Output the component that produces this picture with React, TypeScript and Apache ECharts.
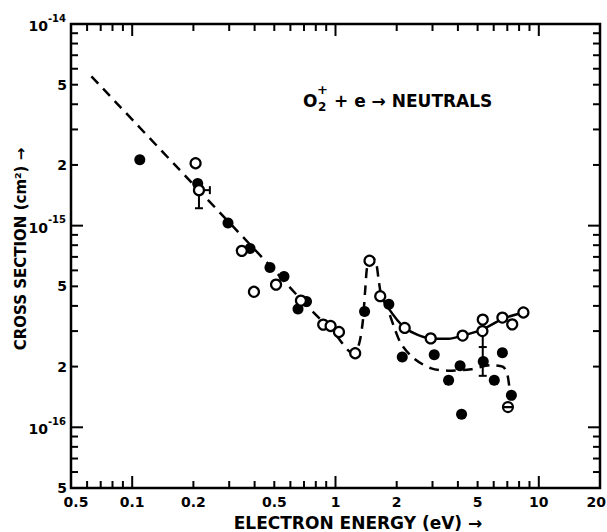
import React, { useEffect, useRef } from "react";
import * as echarts from "echarts";

const X_MIN = 0.05;
const X_MAX = 20;
const Y_MIN = 5e-17;
const Y_MAX = 1e-14;

const xMajorTicks = [0.1, 1, 10];
const xMinorTicks = [0.06, 0.07, 0.08, 0.09, 0.2, 0.3, 0.4, 0.5, 0.6, 0.7, 0.8, 0.9, 2, 3, 4, 5, 6, 7, 8, 9];
const xLabelValues = [0.05, 0.1, 0.2, 0.5, 1, 2, 5, 10, 20];
const xLabelTexts = ["0.5", "0.1", "0.2", "0.5", "1", "2", "5", "10", "20"];

const yMajorTicks = [1e-16, 1e-15];
const yMinorTicks = [
  6e-17, 7e-17, 8e-17, 9e-17,
  2e-16, 3e-16, 4e-16, 5e-16, 6e-16, 7e-16, 8e-16, 9e-16,
  2e-15, 3e-15, 4e-15, 5e-15, 6e-15, 7e-15, 8e-15, 9e-15,
];
const yLabelValues = [1e-14, 5e-15, 2e-15, 1e-15, 5e-16, 2e-16, 1e-16, 5e-17];
const yLabelBase = ["10", "5", "2", "10", "5", "2", "10", "5"];
const yLabelExp = ["-14", "", "", "-15", "", "", "-16", ""];

// filled circles
const filledX = [0.109, 0.21, 0.296, 0.38, 0.476, 0.558, 0.654, 0.72, 1.39, 1.83, 2.13, 3.06, 3.6, 4.1, 4.17, 5.33, 6.04, 6.62, 7.33];
const filledY = [2.12e-15, 1.62e-15, 1.03e-15, 7.7e-16, 6.2e-16, 5.6e-16, 3.86e-16, 4.2e-16, 3.75e-16, 4.08e-16, 2.23e-16, 2.29e-16, 1.71e-16, 2.02e-16, 1.16e-16, 2.12e-16, 1.71e-16, 2.34e-16, 1.44e-16];

// open circles
const openX = [0.205, 0.213, 0.346, 0.397, 0.51, 0.676, 0.87, 0.946, 1.04, 1.25, 1.47, 1.66, 2.19, 2.94, 4.22, 5.3, 5.28, 6.62, 7.4, 8.4];
const openY = [2.04e-15, 1.5e-15, 7.5e-16, 4.7e-16, 5.1e-16, 4.25e-16, 3.23e-16, 3.18e-16, 2.97e-16, 2.33e-16, 6.7e-16, 4.47e-16, 3.11e-16, 2.76e-16, 2.85e-16, 3.42e-16, 3.0e-16, 3.5e-16, 3.24e-16, 3.71e-16];

// open circle with bar
const slashedX = [7.05];
const slashedY = [1.26e-16];

// dashed fit curve
const dashedX = [0.063, 0.2, 0.5, 0.7, 1.0, 1.22, 1.3, 1.36, 1.4, 1.44, 1.51, 1.58, 1.63, 1.68, 1.79, 1.96, 2.11, 2.45, 2.96, 3.57, 4.64, 5.81, 6.64, 6.96, 7.15, 7.3];
const dashedY = [5.5e-15, 1.6e-15, 6.0e-16, 4.15e-16, 2.88e-16, 2.33e-16, 2.55e-16, 3.3e-16, 4.8e-16, 6.5e-16, 7.0e-16, 6.6e-16, 5.4e-16, 4.5e-16, 3.95e-16, 3.06e-16, 2.58e-16, 2.18e-16, 1.96e-16, 1.91e-16, 1.94e-16, 2.03e-16, 2.0e-16, 1.87e-16, 1.61e-16, 1.37e-16];

// solid fit curve
const solidX = [1.79, 2.19, 2.94, 3.6, 4.22, 5.3, 6.64, 8.4];
const solidY = [4.0e-16, 3.12e-16, 2.76e-16, 2.75e-16, 2.85e-16, 3.06e-16, 3.45e-16, 3.71e-16];

// error bars: vertical [x, low, high], caps [x, y], horizontal [y, xLow, xHigh]
const errVX = [0.213, 5.3];
const errVLow = [1.22e-15, 1.8e-16];
const errVHigh = [1.5e-15, 3.0e-16];
const capX = [0.213, 5.3, 5.3];
const capY = [1.22e-15, 1.8e-16, 2.5e-16];
const errHY = [1.5e-15];
const errHLow = [0.213];
const errHHigh = [0.241];

const FONT = '"DejaVu Sans", "Liberation Sans", sans-serif';

export default function App() {
  const ref = useRef<HTMLDivElement>(null);

  useEffect(() => {
    if (!ref.current) return;
    const chart = echarts.init(ref.current, null, { renderer: "svg" });

    const pairs = (xs: number[], ys: number[]) => xs.map((x, i) => [x, ys[i]]);

    const xTickData = [
      ...xMajorTicks.map((v) => [v, Y_MIN, 1]),
      ...xMinorTicks.map((v) => [v, Y_MIN, 0]),
    ];
    const yTickData = [
      ...yMajorTicks.map((v) => [X_MIN, v, 1]),
      ...yMinorTicks.map((v) => [X_MIN, v, 0]),
    ];
    const xLabelData = xLabelValues.map((v, i) => [v, Y_MIN, i]);
    const yLabelData = yLabelValues.map((v, i) => [X_MIN, v, i]);

    const stroke = { stroke: "#000", lineWidth: 2 };

    const option: any = {
      animation: false,
      backgroundColor: "#fff",
      grid: {
        left: 71,
        right: 7,
        top: 24,
        bottom: 44,
        show: true,
        borderColor: "#000",
        borderWidth: 2.5,
        backgroundColor: "transparent",
      },
      xAxis: {
        type: "log",
        logBase: 10,
        min: X_MIN,
        max: X_MAX,
        axisLine: { show: false },
        axisTick: { show: false },
        axisLabel: { show: false },
        splitLine: { show: false },
      },
      yAxis: {
        type: "log",
        logBase: 10,
        min: Y_MIN,
        max: Y_MAX,
        axisLine: { show: false },
        axisTick: { show: false },
        axisLabel: { show: false },
        splitLine: { show: false },
      },
      graphic: [
        {
          type: "text",
          x: 21,
          y: 249,
          rotation: Math.PI / 2,
          style: {
            text: "CROSS SECTION (cm²) →",
            font: `bold 15px ${FONT}`,
            fill: "#000",
            textAlign: "center",
            textVerticalAlign: "middle",
            align: "center",
            verticalAlign: "middle",
          },
        },
        {
          type: "text",
          x: 358,
          y: 523,
          style: {
            text: "ELECTRON ENERGY (eV) →",
            font: `bold 17px ${FONT}`,
            fill: "#000",
            textAlign: "center",
            textVerticalAlign: "middle",
            align: "center",
            verticalAlign: "middle",
          },
        },
        {
          type: "group",
          children: [
            {
              type: "text",
              x: 303,
              y: 101,
              style: { text: "O", font: `bold 17px ${FONT}`, fill: "#000", textVerticalAlign: "middle", verticalAlign: "middle" },
            },
            {
              type: "text",
              x: 317,
              y: 89,
              style: { text: "+", font: `bold 13px ${FONT}`, fill: "#000", textVerticalAlign: "middle", verticalAlign: "middle" },
            },
            {
              type: "text",
              x: 318,
              y: 107,
              style: { text: "2", font: `bold 12px ${FONT}`, fill: "#000", textVerticalAlign: "middle", verticalAlign: "middle" },
            },
            {
              type: "text",
              x: 334,
              y: 101,
              style: { text: "+ e → NEUTRALS", font: `bold 17px ${FONT}`, fill: "#000", textVerticalAlign: "middle", verticalAlign: "middle" },
            },
          ],
        },
      ],
      series: [
        {
          type: "custom",
          name: "xticks",
          coordinateSystem: "cartesian2d",
          encode: { x: 0, y: 1 },
          data: xTickData,
          z: 5,
          silent: true,
          renderItem: (params: any, api: any) => {
            const cs = params.coordSys;
            const px = api.coord([api.value(0), Y_MIN])[0];
            const len = api.value(2) ? 12 : 7;
            const bottom = cs.y + cs.height;
            const top = cs.y;
            return {
              type: "group",
              children: [
                { type: "line", shape: { x1: px, y1: bottom, x2: px, y2: bottom - len }, style: stroke },
                { type: "line", shape: { x1: px, y1: top, x2: px, y2: top + len }, style: stroke },
              ],
            };
          },
        },
        {
          type: "custom",
          name: "yticks",
          coordinateSystem: "cartesian2d",
          encode: { x: 0, y: 1 },
          data: yTickData,
          z: 5,
          silent: true,
          renderItem: (params: any, api: any) => {
            const cs = params.coordSys;
            const py = api.coord([X_MIN, api.value(1)])[1];
            const len = api.value(2) ? 12 : 7;
            const left = cs.x;
            const right = cs.x + cs.width;
            return {
              type: "group",
              children: [
                { type: "line", shape: { x1: left, y1: py, x2: left + len, y2: py }, style: stroke },
                { type: "line", shape: { x1: right, y1: py, x2: right - len, y2: py }, style: stroke },
              ],
            };
          },
        },
        {
          type: "custom",
          name: "xlabels",
          coordinateSystem: "cartesian2d",
          encode: { x: 0, y: 1 },
          data: xLabelData,
          z: 5,
          silent: true,
          renderItem: (params: any, api: any) => {
            const cs = params.coordSys;
            const px = api.coord([api.value(0), Y_MIN])[0];
            const idx = api.value(2);
            const last = idx === xLabelTexts.length - 1;
            const align = last ? "right" : "center";
            return {
              type: "text",
              style: {
                text: xLabelTexts[idx],
                x: idx === 0 ? px + 5 : last ? px + 6 : px,
                y: cs.y + cs.height + 7,
                font: `bold 14px ${FONT}`,
                fill: "#000",
                textAlign: align,
                textVerticalAlign: "top",
                align: align,
                verticalAlign: "top",
              },
            };
          },
        },
        {
          type: "custom",
          name: "ylabels",
          coordinateSystem: "cartesian2d",
          encode: { x: 0, y: 1 },
          data: yLabelData,
          z: 5,
          silent: true,
          renderItem: (params: any, api: any) => {
            const cs = params.coordSys;
            const py = api.coord([X_MIN, api.value(1)])[1];
            const idx = api.value(2);
            const exp = yLabelExp[idx];
            if (!exp) {
              return {
                type: "text",
                style: {
                  text: yLabelBase[idx],
                  x: cs.x - 4,
                  y: py,
                  font: `bold 14px ${FONT}`,
                  fill: "#000",
                  textAlign: "right",
                  textVerticalAlign: "middle",
                  align: "right",
                  verticalAlign: "middle",
                },
              };
            }
            return {
              type: "text",
              style: {
                text: `{b|${yLabelBase[idx]}}{s|${exp}}`,
                x: cs.x - 5,
                y: py,
                fill: "#000",
                textAlign: "right",
                textVerticalAlign: "middle",
                align: "right",
                verticalAlign: "middle",
                rich: {
                  b: { font: `bold 14px ${FONT}`, fill: "#000", lineHeight: 22, verticalAlign: "bottom", padding: [0, 0, 2, 0] },
                  s: { font: `bold 10px ${FONT}`, fill: "#000", lineHeight: 22, verticalAlign: "top" },
                },
              },
            };
          },
        },
        {
          type: "line",
          name: "dashed",
          data: pairs(dashedX, dashedY),
          showSymbol: false,
          smooth: 0.3,
          z: 2,
          lineStyle: { color: "#000", width: 2.5, type: [10, 7] },
        },
        {
          type: "line",
          name: "solid",
          data: pairs(solidX, solidY),
          showSymbol: false,
          smooth: 0.3,
          z: 2,
          lineStyle: { color: "#000", width: 2.5, type: "solid" },
        },
        {
          type: "custom",
          name: "errV",
          coordinateSystem: "cartesian2d",
          encode: { x: 0, y: 1 },
          data: errVX.map((x, i) => [x, errVLow[i], errVHigh[i]]),
          z: 3,
          renderItem: (params: any, api: any) => {
            const a = api.coord([api.value(0), api.value(1)]);
            const b = api.coord([api.value(0), api.value(2)]);
            return { type: "line", shape: { x1: a[0], y1: a[1], x2: b[0], y2: b[1] }, style: { stroke: "#000", lineWidth: 2 } };
          },
        },
        {
          type: "custom",
          name: "caps",
          coordinateSystem: "cartesian2d",
          encode: { x: 0, y: 1 },
          data: pairs(capX, capY),
          z: 3,
          renderItem: (params: any, api: any) => {
            const a = api.coord([api.value(0), api.value(1)]);
            return { type: "line", shape: { x1: a[0] - 4, y1: a[1], x2: a[0] + 4, y2: a[1] }, style: { stroke: "#000", lineWidth: 2 } };
          },
        },
        {
          type: "custom",
          name: "errH",
          coordinateSystem: "cartesian2d",
          encode: { x: 1, y: 0 },
          data: errHY.map((y, i) => [y, errHLow[i], errHHigh[i]]),
          z: 3,
          renderItem: (params: any, api: any) => {
            const a = api.coord([api.value(1), api.value(0)]);
            const b = api.coord([api.value(2), api.value(0)]);
            return {
              type: "group",
              children: [
                { type: "line", shape: { x1: a[0], y1: a[1], x2: b[0], y2: b[1] }, style: { stroke: "#000", lineWidth: 2 } },
                { type: "line", shape: { x1: b[0], y1: b[1] - 4, x2: b[0], y2: b[1] + 4 }, style: { stroke: "#000", lineWidth: 2 } },
              ],
            };
          },
        },
        {
          type: "scatter",
          name: "filled",
          data: pairs(filledX, filledY),
          symbol: "circle",
          symbolSize: 11,
          z: 4,
          itemStyle: { color: "#000", opacity: 1 },
        },
        {
          type: "scatter",
          name: "open",
          data: pairs(openX, openY),
          symbol: "circle",
          symbolSize: 10,
          z: 5,
          itemStyle: { color: "#fff", borderColor: "#000", borderWidth: 2.2, opacity: 1 },
        },
        {
          type: "scatter",
          name: "slashed",
          data: pairs(slashedX, slashedY),
          symbol: "path://M0,-5 A5,5 0 1,1 0,5 A5,5 0 1,1 0,-5 Z M-5,0 L5,0",
          symbolSize: 10,
          z: 5,
          itemStyle: { color: "#fff", borderColor: "#000", borderWidth: 2.2, opacity: 1 },
        },
      ],
    };

    chart.setOption(option);
    return () => chart.dispose();
  }, []);

  return (
    <div
      ref={ref}
      style={{ position: "fixed", left: 0, top: 0, width: 607, height: 532, background: "#fff" }}
    />
  );
}
